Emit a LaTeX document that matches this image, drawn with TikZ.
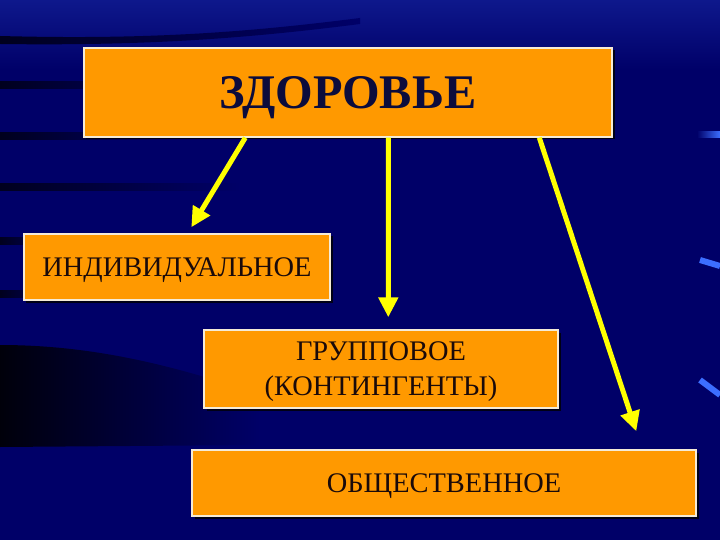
\documentclass[tikz,border=0pt]{standalone}
\usepackage{fontspec}
\setmainfont{Liberation Serif}
\usetikzlibrary{arrows.meta,calc}
\definecolor{bg}{RGB}{0,0,104}
\definecolor{bgtop}{RGB}{14,24,140}
\definecolor{boxfill}{RGB}{255,153,0}
\definecolor{boxline}{RGB}{245,235,215}
\definecolor{titlecol}{RGB}{12,12,60}
\definecolor{txtcol}{RGB}{26,10,10}
\definecolor{arrowcol}{RGB}{255,255,0}
\definecolor{dashcol}{RGB}{60,110,255}
\definecolor{stripecol}{RGB}{0,0,30}
\tikzset{
  box/.style={rectangle, fill=boxfill, draw=boxline, line width=1.4bp, inner sep=0pt,
    align=center, text=txtcol, text depth=0pt, font=\fontsize{28.5}{35}\selectfont,
    preaction={fill=black!80!bg, transform canvas={shift={(2.5bp,-2.5bp)}}}},
  arr/.style={draw=arrowcol, line width=5bp, -{Triangle[length=20bp,width=19bp]}},
  stripe/.style={left color=stripecol, right color=bg}
}
\begin{document}
\begin{tikzpicture}[x=1bp,y=-1bp]
\useasboundingbox (0,0) rectangle (720,540);
\fill[bg] (0,0) rectangle (720,540);
\shade[top color=bgtop, bottom color=bg] (0,0) rectangle (720,70);
% dark stripes on the left
\shade[stripe] (0,36) .. controls (150,40) and (250,32) .. (360,18) -- (360,24) .. controls (250,38) and (150,46) .. (0,44) -- cycle;
\shade[stripe] (0,82) rectangle (180,89);
\shade[stripe] (0,133) rectangle (170,140);
\shade[stripe] (0,184) rectangle (240,191);
\shade[stripe] (0,238) rectangle (60,245);
\shade[stripe] (0,290) rectangle (60,297);
\shade[left color=black!90!bg, right color=bg] (0,345) .. controls (80,345) and (160,360) .. (260,395) -- (260,445) -- (0,447) -- cycle;
% light dashes on the right
\shade[left color=bg, right color=dashcol] (697,132) rectangle (720,138);
\draw[dashcol, line width=6bp] (700,260) -- (720,266);
\draw[dashcol, line width=6bp] (700,380) -- (720,395);
% boxes
\node[box, minimum width=528bp, minimum height=89bp, text=titlecol,
  font=\fontsize{48.5}{52}\selectfont\bfseries] (top) at (348,92.5) {ЗДОРОВЬЕ};
\node[box, minimum width=306bp, minimum height=66bp] (ind) at (177,267) {ИНДИВИДУАЛЬНОЕ};
\node[box, minimum width=354bp, minimum height=78bp] (grp) at (381,369) {ГРУППОВОЕ\\(КОНТИНГЕНТЫ)};
\node[box, minimum width=504bp, minimum height=66bp] (obs) at (444,483) {ОБЩЕСТВЕННОЕ};
% arrow end points
\coordinate (e1) at ($(ind.north west)+(168,-6)$);
\coordinate (e2) at ($(grp.north west)+(185,-12)$);
\coordinate (e3) at ($(obs.north west)+(445,-18)$);
\draw[arr] ($(top.south west)+(162,0)$) -- (e1);
\draw[arr] ($(top.south west)+(305,0)$) -- (e2);
\draw[arr] ($(top.south west)+(456,0)$) -- (e3);
\end{tikzpicture}
\end{document}
